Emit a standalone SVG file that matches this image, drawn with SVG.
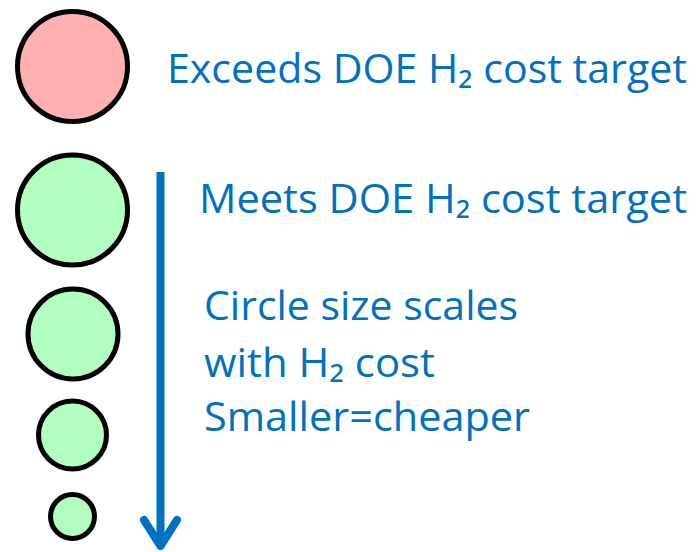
<svg xmlns="http://www.w3.org/2000/svg" width="696" height="552" viewBox="0 0 696 552">
<style>
.node circle{stroke:#000;stroke-width:5}
.red{fill:#FFB1B1}
.green{fill:#B2FDC0}
.t{font-family:"Open Sans","Noto Sans","DejaVu Sans",sans-serif;fill:#0070C0;font-size:41px}
</style>
<rect width="696" height="552" fill="#fff"/>
<g id="exceeds-circle" class="node"><circle class="red" cx="72.5" cy="66.5" r="55"/></g>
<g id="meets-circle-1" class="node"><circle class="green" cx="72.5" cy="210" r="55"/></g>
<g id="meets-circle-2" class="node"><circle class="green" cx="73" cy="334" r="45"/></g>
<g id="meets-circle-3" class="node"><circle class="green" cx="72.5" cy="435" r="34"/></g>
<g id="meets-circle-4" class="node"><circle class="green" cx="72.5" cy="516.5" r="22"/></g>
<g id="connectors" stroke="#0070C0" stroke-width="8" fill="none">
<line x1="160.5" y1="172" x2="160.5" y2="546" stroke-linecap="butt"/>
<polyline points="144,520 160.5,546 177,520" stroke-linecap="round" stroke-linejoin="round"/>
</g>
<g id="labels">
<text class="t" x="167" y="83" textLength="520" lengthAdjust="spacingAndGlyphs">Exceeds DOE H₂ cost target</text>
<text class="t" x="199" y="213" textLength="488" lengthAdjust="spacingAndGlyphs">Meets DOE H₂ cost target</text>
<text class="t" x="204" y="320" textLength="314" lengthAdjust="spacingAndGlyphs">Circle size scales</text>
<text class="t" x="204" y="377" textLength="231" lengthAdjust="spacingAndGlyphs">with H₂ cost</text>
<text class="t" x="204" y="431" textLength="326" lengthAdjust="spacingAndGlyphs">Smaller=cheaper</text>
</g>
</svg>
